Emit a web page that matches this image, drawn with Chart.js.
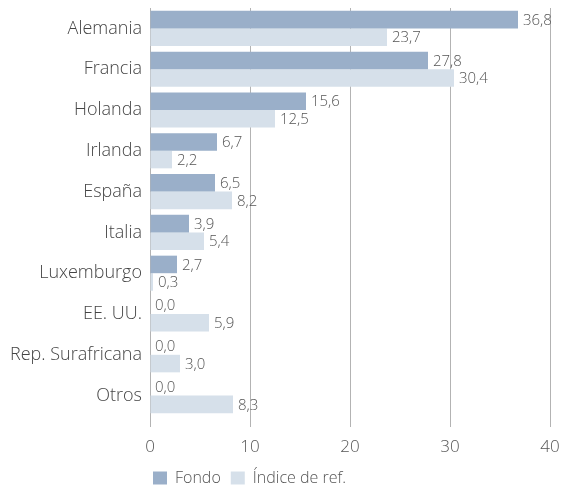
<!DOCTYPE html>
<html>
<head>
<meta charset="utf-8">
<script src="https://cdn.jsdelivr.net/npm/chart.js@4"></script>
<style>
  html, body { margin: 0; padding: 0; background: #fff; }
  #wrap { width: 563px; height: 490px; overflow: hidden; }
</style>
</head>
<body>
<div id="wrap"><canvas id="chart" width="563" height="490"></canvas></div>
<script>
const countries = ['Alemania', 'Francia', 'Holanda', 'Irlanda', 'España', 'Italia', 'Luxemburgo', 'EE. UU.', 'Rep. Surafricana', 'Otros'];
const fondo = [36.8, 27.8, 15.6, 6.7, 6.5, 3.9, 2.7, 0.0, 0.0, 0.0];
const indice = [23.7, 30.4, 12.5, 2.2, 8.2, 5.4, 0.3, 5.9, 3.0, 8.3];
const xTicks = [0, 10, 20, 30, 40];

const FONT = '"Open Sans", sans-serif';

// value labels drawn at the end of every bar
const barLabels = {
    id: 'barLabels',
    afterLayout(chart) {
        // pull the legend a bit to the left, closer to the axis
        chart.legend.left -= 7;
        chart.legend.right -= 7;
    },
    afterDatasetsDraw(chart) {
        const ctx = chart.ctx;
        ctx.save();
        ctx.font = '300 15px ' + FONT;
        ctx.fillStyle = '#555';
        ctx.textAlign = 'left';
        ctx.textBaseline = 'middle';
        chart.data.datasets.forEach((ds, i) => {
            chart.getDatasetMeta(i).data.forEach((bar, j) => {
                const txt = ds.data[j].toFixed(1).replace('.', ',');
                ctx.fillText(txt, bar.x + 5, bar.y + 1);
            });
        });
        ctx.restore();
    }
};

new Chart(document.getElementById('chart').getContext('2d'), {
    type: 'bar',
    data: {
        labels: countries,
        datasets: [
            { label: 'Fondo', data: fondo, backgroundColor: '#9AAFC9' },
            { label: 'Índice de ref.', data: indice, backgroundColor: '#D6E0EA' }
        ]
    },
    options: {
        indexAxis: 'y',
        responsive: false,
        animation: false,
        layout: { padding: { top: 8, right: 13, left: 0, bottom: -6 } },
        datasets: { bar: { barPercentage: 1, categoryPercentage: 0.86 } },
        scales: {
            x: {
                min: 0,
                max: 40,
                afterBuildTicks: axis => { axis.ticks = xTicks.map(v => ({ value: v })); },
                afterFit: axis => { axis.height = 44; axis.paddingLeft = 0; axis.paddingRight = 0; },
                grid: { color: '#b3b3b3', tickLength: 11, drawTicks: true },
                border: { display: false },
                ticks: { color: '#555', font: { family: FONT, size: 17, weight: 300 }, padding: 10 }
            },
            y: {
                afterFit: axis => { axis.width = 150; axis.paddingTop = 0; axis.paddingBottom = 0; },
                grid: { display: false, drawTicks: false },
                border: { display: true, color: '#b3b3b3' },
                ticks: { color: '#444', font: { family: FONT, size: 18, weight: 300 }, padding: 8 }
            }
        },
        plugins: {
            legend: {
                position: 'bottom',
                align: 'start',
                fullSize: false,
                labels: {
                    boxWidth: 14,
                    boxHeight: 13,
                    color: '#555',
                    padding: 10,
                    font: { family: FONT, size: 16, weight: 300 }
                }
            },
            tooltip: { enabled: false }
        }
    },
    plugins: [barLabels]
});
</script>
</body>
</html>
